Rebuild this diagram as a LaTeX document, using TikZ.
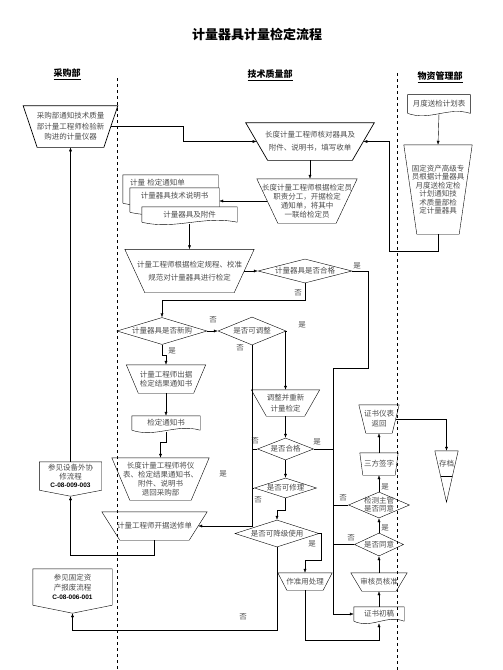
\documentclass[tikz,border=0pt]{standalone}
\usepackage{fontspec}
\setmainfont{Noto Sans CJK SC}
\newfontfamily\codefont{Liberation Sans}
\usetikzlibrary{shapes.geometric,arrows.meta,calc,backgrounds}
\definecolor{txt}{gray}{0.3}
\newcommand\trapline[2]{\draw (#1.north west) -- (#1.north east) -- ([xshift=-#2]#1.south east) -- ([xshift=#2]#1.south west) -- cycle;}
\newcommand\docline[1]{\begin{pgfonlayer}{background}\draw[fill=white] (#1.south west) -- (#1.north west) -- (#1.north east) -- (#1.south east) .. controls ($(#1.south west)!0.65!(#1.south east)+(0,-7)$) and ($(#1.south west)!0.35!(#1.south east)+(0,8)$) .. (#1.south west);\end{pgfonlayer}}
\newcommand\extline[2]{\coordinate (#1-tip) at ([yshift=-#2]#1.south); \draw (#1.north west) -- (#1.north east) -- (#1.south east) -- (#1-tip) -- (#1.south west) -- cycle;}
\begin{document}
\begin{tikzpicture}[x=1pt,y=-1pt,line width=0.7pt,
    ttl/.style={font=\bfseries\fontsize{13}{15}\selectfont},
    lane/.style={font=\bfseries\fontsize{9}{11}\selectfont},
    proc/.style={inner sep=0pt, align=center, text=txt, font=\fontsize{7.5}{9.5}\selectfont},
    doc/.style={inner sep=0pt, align=center, text=txt, font=\fontsize{7.5}{9.5}\selectfont},
    ext/.style={inner sep=0pt, align=center, text=txt, font=\fontsize{7.5}{8.5}\selectfont},
    dec/.style={diamond, draw, inner sep=0pt, text=txt, font=\fontsize{7.5}{8}\selectfont},
    lbl/.style={inner sep=0pt, text=txt, font=\fontsize{7.5}{8}\selectfont},
    arr/.style={-{Latex[length=4pt,width=3pt]}}]
    \useasboundingbox (0,0) rectangle (503,670);
    % title and lanes
    \node[ttl] (title) at (257,34) {计量器具计量检定流程};
    \node[lane] (laneBuy) at (67,74) {\underline{采购部}};
    \node[lane] (laneTech) at (270,75) {\underline{技术质量部}};
    \node[lane] (laneMat) at (440,77) {\underline{物资管理部}};
    \draw [dashed] (117,78) -- (117,670);
    \draw [dashed] (397,73) -- (397,670);
    % boxes
    \node[proc, minimum width=94pt, minimum height=41pt, font=\fontsize{7.5}{10.5}\selectfont] (buy) at (70.5,126.5) {采购部通知技术质量\\部计量工程师检验新\\购进的计量仪器};
    \trapline{buy}{14pt}
    \node[proc, minimum width=128pt, minimum height=37pt, font=\fontsize{7.5}{13}\selectfont] (check) at (310,141.5) {长度计量工程师核对器具及\\附件、说明书，填写收单};
    \trapline{check}{22pt}
    \node[doc, minimum width=62pt, minimum height=18pt] (plan) at (439,104) {月度送检计划表};
    \docline{plan}
    \node[proc, minimum width=68pt, minimum height=89pt, font=\fontsize{7.5}{8.5}\selectfont] (notify) at (438,189.5) {固定资产高级专\\员根据计量器具\\月度送检定检\\计划通知技\\术质量部检\\定计量器具};
    \trapline{notify}{13pt}
    \node[proc, minimum width=100pt, minimum height=44pt, font=\fontsize{7.5}{9}\selectfont] (assign) at (307,201) {长度计量工程师根据检定员\\职责分工，开据检定\\通知单，将其中\\一联给检定员};
    \trapline{assign}{21pt}
    \node[doc, minimum width=95pt, minimum height=28pt, text width=81pt, align=left, text height=6pt, text depth=14pt] (form) at (170.5,189) {计量 检定通知单};
    \docline{form}
    \node[doc, minimum width=89pt, minimum height=24pt, text height=6pt, text depth=9pt] (manual) at (174.5,200) {计量器具技术说明书};
    \docline{manual}
    \node[doc, minimum width=95pt, minimum height=15pt] (parts) at (189.5,214.5) {计量器具及附件};
    \docline{parts}
    \node[proc, minimum width=129pt, minimum height=43pt, font=\fontsize{7.5}{13}\selectfont] (verify) at (189.5,271) {计量工程师根据检定规程、校准\\规范对计量器具进行检定};
    \trapline{verify}{20pt}
    \node[dec, minimum width=94pt, minimum height=24pt, aspect=3.9] (qualified) at (305,271) {计量器具是否合格};
    \node[dec, minimum width=90pt, minimum height=27pt, aspect=3.3] (isnew) at (162,331) {计量器具是否新购};
    \node[dec, minimum width=68pt, minimum height=28pt, aspect=2.4] (adjust) at (252,331) {是否可调整};
    \node[proc, minimum width=79pt, minimum height=28pt, font=\fontsize{7.5}{8.5}\selectfont] (result) at (166,379) {计量工程师出据\\检定结果通知书};
    \trapline{result}{12pt}
    \node[doc, minimum width=68pt, minimum height=14pt] (notice) at (166,423) {检定通知书};
    \docline{notice}
    \node[proc, minimum width=97pt, minimum height=42pt, font=\fontsize{7.5}{9}\selectfont] (return) at (160.5,479) {长度计量工程师将仪\\表、检定结果通知书、\\附件、说明书\\退回采购部};
    \trapline{return}{18pt}
    \node[proc, minimum width=105pt, minimum height=28pt] (repair) at (154.5,526) {计量工程师开据送修单};
    \trapline{repair}{18pt}
    \node[ext, minimum width=62pt, minimum height=28pt] (extA) at (70.5,476) {参见设备外协\\修流程\\{\codefont\bfseries\fontsize{6.5}{8}\selectfont\color{black}C-08-009-003}};
    \extline{extA}{6pt}
    \node[ext, minimum width=79pt, minimum height=36pt, font=\fontsize{7.5}{9.5}\selectfont] (extB) at (72.5,587) {参见固定资\\产报废流程\\{\codefont\bfseries\fontsize{6.5}{8}\selectfont\color{black}C-08-006-001}};
    \extline{extB}{8pt}
    \node[proc, minimum width=68pt, minimum height=26pt, font=\fontsize{7.5}{11}\selectfont] (readjust) at (285.5,403) {调整并重新\\计量检定};
    \trapline{readjust}{15pt}
    \node[dec, minimum width=56pt, minimum height=22pt, aspect=2.6] (passed) at (285.5,449) {是否合格};
    \node[dec, minimum width=62pt, minimum height=20pt, aspect=3.1] (fixable) at (285.5,488) {是否可修理};
    \node[dec, minimum width=84pt, minimum height=27pt, aspect=3.1] (downgrade) at (277,533.5) {是否可降级使用};
    \node[proc, minimum width=54pt, minimum height=17pt] (limited) at (305,581.5) {作准用处理};
    \trapline{limited}{9pt}
    \node[doc, minimum width=50pt, minimum height=14pt] (draft) at (379,614) {证书初稿};
    \docline{draft}
    \node[proc, minimum width=56pt, minimum height=18pt] (approve) at (379,582) {审核员核准};
    \trapline{approve}{11pt}
    \node[dec, minimum width=49pt, minimum height=23pt, aspect=2.1] (agree) at (379,544.5) {是否同意};
    \node[dec, minimum width=61pt, minimum height=26pt, aspect=2.35, inner sep=-2.5pt, font=\fontsize{7.5}{8}\selectfont, align=center] (chief) at (379,505) {检测主管\\是否同意};
    \node[proc, minimum width=38pt, minimum height=22pt] (sign) at (379,464) {三方签字};
    \trapline{sign}{3pt}
    \node[proc, minimum width=40pt, minimum height=28pt, font=\fontsize{7.5}{10}\selectfont] (back) at (379,419) {证书仪表\\返回};
    \trapline{back}{7pt}
    \node[proc, minimum width=23pt, minimum height=25pt] (archive) at (446.5,463.5) {存档};
    \coordinate (archive-tip) at ([yshift=-26pt]archive.south);
    \draw (archive.north west) -- (archive.north east) -- (archive-tip) -- cycle;
    \draw ($(archive.north west)!0.49!(archive-tip)$) -- ($(archive.north east)!0.49!(archive-tip)$);
    \coordinate (bus) at (333,368);
    % labels
    \node[lbl] (yQual) at (357,266) {是};
    \node[lbl] (nQual) at (298,293) {否};
    \node[lbl] (nNew) at (213,320) {否};
    \node[lbl] (yAdj) at (302,325) {是};
    \node[lbl] (nAdj) at (240,348) {否};
    \node[lbl] (yNew) at (172,351) {是};
    \node[lbl] (yExtra) at (223,474) {是};
    \node[lbl] (nPass) at (255,441) {否};
    \node[lbl] (yPass) at (317,442) {是};
    \node[lbl] (nFix) at (258,500) {否};
    \node[lbl] (yDown) at (312,544) {是};
    \node[lbl] (nDown) at (243,617) {否};
    \node[lbl] (nAgree) at (351,538) {否};
    \node[lbl] (yAgree) at (385,528) {是};
    \node[lbl] (nChief) at (343,498) {否};
    \node[lbl] (yChief) at (385,487) {是};
    % connectors
    \draw [arr] ([xshift=-7pt]buy.east) -- ++(72,0) |- ([xshift=11pt]check.west);
    \draw [arr] (plan.south) -- (notify.north);
    \draw [arr] (notify.south) -- ++(0,17) -- ++(-49,0) |- ([xshift=-11pt]check.east);
    \draw [arr] (check.south) -- (check.south |- assign.north);
    \draw [arr] ([xshift=10.5pt]assign.west) -- (assign.west -| manual.east);
    \draw [arr] ([yshift=-2pt]parts.south) -- (verify.north);
    \draw [arr] ([xshift=-10pt]verify.east) -- (qualified.west);
    \draw [arr] (qualified.south) -- ++(0,17) -| (isnew.north);
    \draw [arr] (qualified.east) -- ++(16,0) |- (bus) -- (bus |- draft.west) -- (draft.west);
    \draw [arr] (isnew.east) -- (adjust.west);
    \draw [arr] (adjust.east) -| (readjust.north);
    \draw [arr] (adjust.south) |- ([xshift=-9pt]repair.east);
    \draw [arr] (isnew.south) -- ++(0,10) -| (result.north);
    \draw [arr] (result.south) -- (notice.north);
    \draw [arr] ([yshift=-2pt]notice.south) -- ++(0,10) -| (return.north);
    \draw [arr] (repair.south) -- ++(0,15) -| (extA-tip);
    \draw [arr] (extA.north) -- (buy.south);
    \draw [arr] (readjust.south) -- (passed.north);
    \draw (passed.west) -- (passed.west -| adjust.south);
    \draw (passed.east) -- (passed.east -| bus);
    \draw [arr] (passed.south) -- (fixable.north);
    \draw (fixable.west) -- (fixable.west -| adjust.south);
    \draw [arr] (fixable.south) -- ++(0,12) -| (downgrade.north);
    \draw [arr] (downgrade.east) -- ++(2,0) -- ++(0,27) -| (limited.north);
    \draw [arr] (downgrade.south) -- ++(0,83) -| (extB-tip);
    \draw [arr] (limited.south) -- ++(0,50) -| ([yshift=-2pt]draft.south);
    \draw [arr] (draft.north) -- (approve.south);
    \draw [arr] (approve.north) -- (agree.south);
    \draw [arr] (agree.north) -- (chief.south);
    \draw (agree.west) -- (agree.west -| bus);
    \draw [arr] (chief.north) -- (sign.south);
    \draw (chief.west) -- (chief.west -| bus);
    \draw [arr] (sign.north) -- (back.south);
    \draw [arr] ([xshift=-3.5pt]back.east) -| (archive.north);
\end{tikzpicture}
\end{document}
